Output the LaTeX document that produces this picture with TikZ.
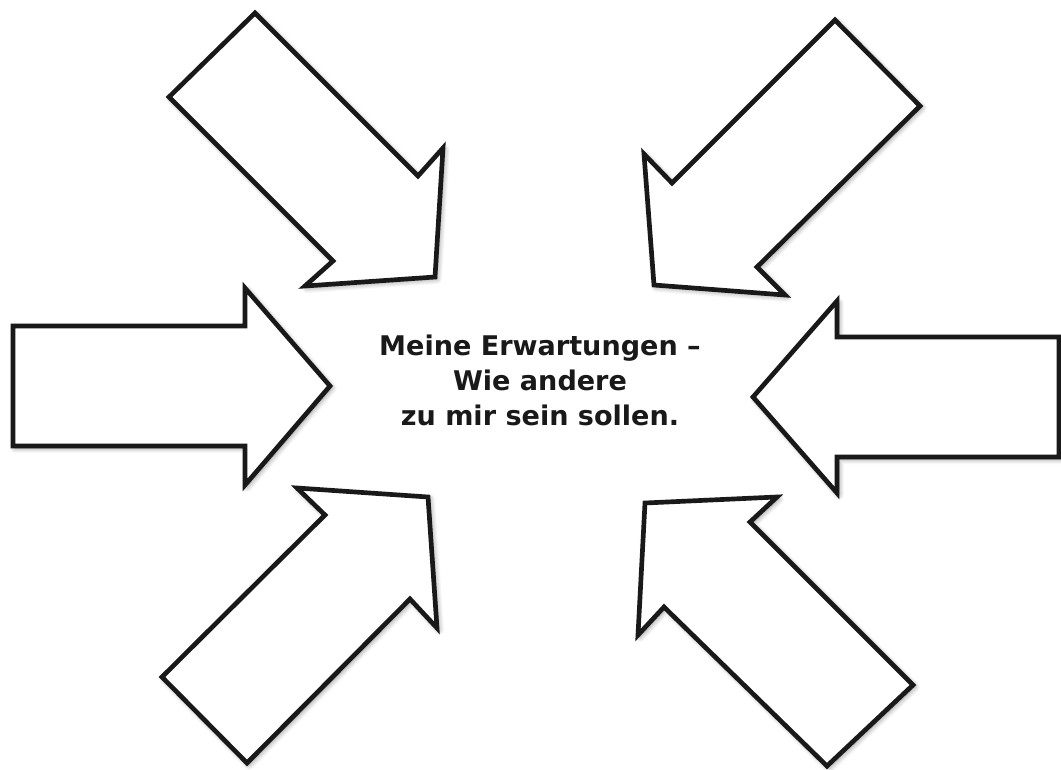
\documentclass[tikz,border=0pt]{standalone}
\usepackage{fontspec}
\setmainfont{DejaVu Sans}
\usetikzlibrary{shadows.blur}
\begin{document}
\begin{tikzpicture}[x=0.75pt,y=-0.75pt,
  bigarrow/.style={draw=black!90, line width=3.5pt, fill=white, line join=miter,
    blur shadow={shadow xshift=1.5pt, shadow yshift=-1.5pt, shadow blur steps=8, shadow blur radius=4pt, shadow opacity=45}},
  label/.style={font=\bfseries\fontsize{20.3}{26.25}\selectfont, align=center, text=black!90}]
\useasboundingbox (0,0) rectangle (1061,769);
% top-left
\path[bigarrow] (255,13) -- (418,176) -- (443,148) -- (435,277) -- (305,286) -- (333,261) -- (169,97) -- cycle;
% top-right
\path[bigarrow] (835,20) -- (920,106) -- (757,267) -- (785,295) -- (654,285) -- (644,154) -- (672,183) -- cycle;
% left
\path[bigarrow] (13,326) -- (245,326) -- (245,288) -- (330,386) -- (245,485) -- (245,446) -- (13,446) -- cycle;
% right
\path[bigarrow] (1059,337) -- (837,337) -- (837,301) -- (753,397) -- (837,493) -- (837,457) -- (1059,457) -- cycle;
% bottom-left
\path[bigarrow] (297,488) -- (428,497) -- (437,628) -- (410,599) -- (247,763) -- (162,677) -- (325,515) -- cycle;
% bottom-right
\path[bigarrow] (645,503) -- (777,497) -- (750,522) -- (913,685) -- (827,766) -- (664,607) -- (638,635) -- cycle;
\node[label] (title) at (540,380) {Meine Erwartungen –\\Wie andere\\zu mir sein sollen.};
\end{tikzpicture}
\end{document}
